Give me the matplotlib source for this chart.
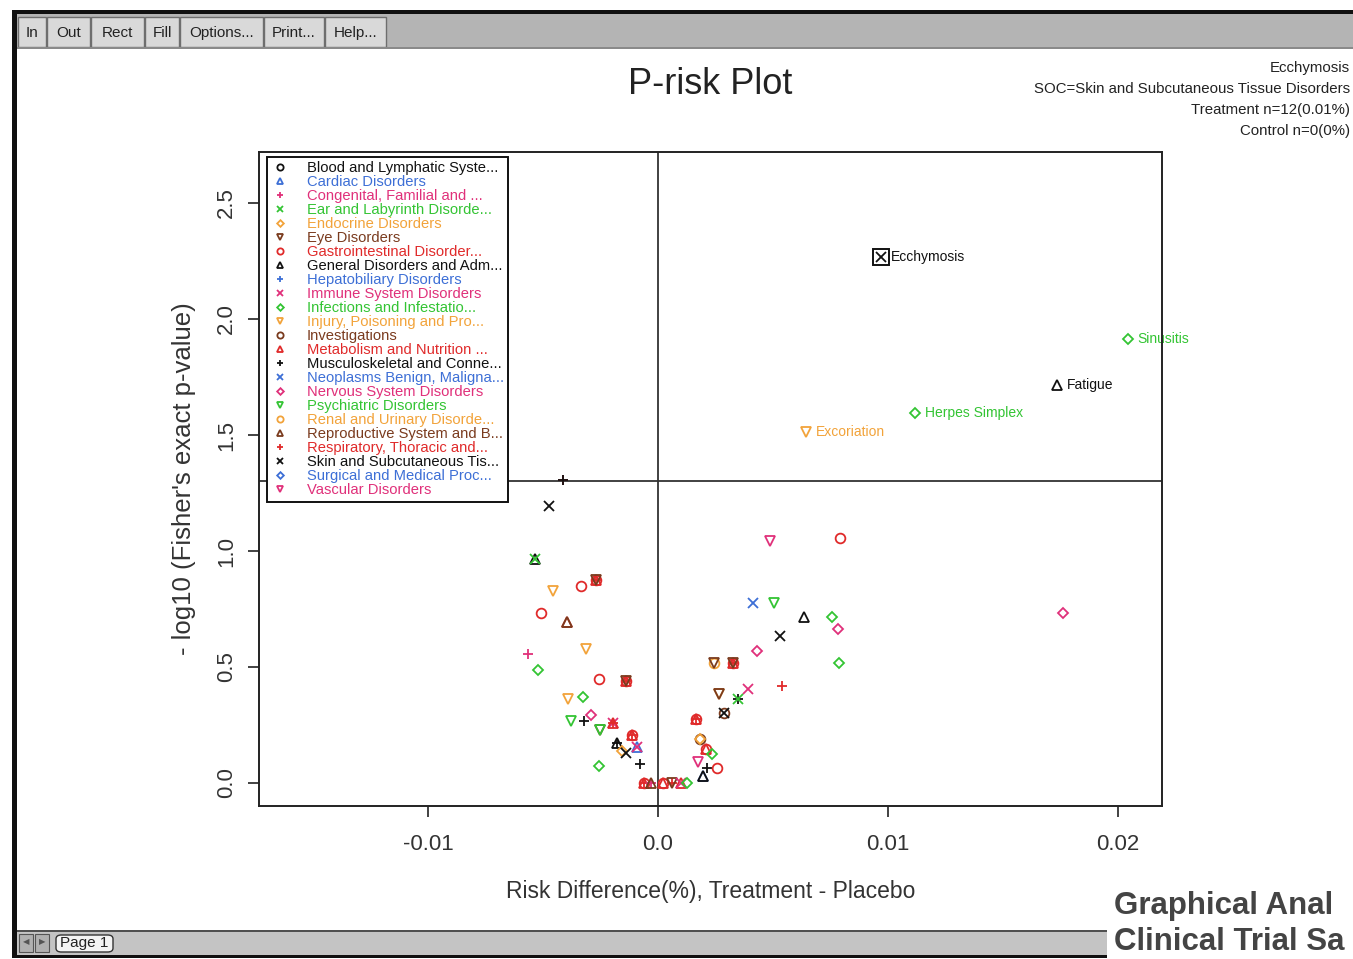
"""
P-risk plot (S-PLUS style window): risk difference vs -log10 Fisher p-value,
one marker style per system organ class. Writes out.png.
"""

import math

import matplotlib
matplotlib.use("Agg")
import matplotlib.pyplot as plt
from matplotlib.lines import Line2D
from matplotlib.patches import Rectangle, FancyBboxPatch

plt.rcParams["font.family"] = ["Liberation Sans", "DejaVu Sans"]

W, H = 1353, 959

# ---- data -------------------------------------------------------------------
SOC_LABELS = [
    "Blood and Lymphatic Syste...",
    "Cardiac Disorders",
    "Congenital, Familial and ...",
    "Ear and Labyrinth Disorde...",
    "Endocrine Disorders",
    "Eye Disorders",
    "Gastrointestinal Disorder...",
    "General Disorders and Adm...",
    "Hepatobiliary Disorders",
    "Immune System Disorders",
    "Infections and Infestatio...",
    "Injury, Poisoning and Pro...",
    "Investigations",
    "Metabolism and Nutrition ...",
    "Musculoskeletal and Conne...",
    "Neoplasms Benign, Maligna...",
    "Nervous System Disorders",
    "Psychiatric Disorders",
    "Renal and Urinary Disorde...",
    "Reproductive System and B...",
    "Respiratory, Thoracic and...",
    "Skin and Subcutaneous Tis...",
    "Surgical and Medical Proc...",
    "Vascular Disorders",
]

# unlabelled adverse events (several SOCs often sit on the same spot)
PT_DIFF = [
    -0.00413, -0.00413, -0.00474, -0.00535, -0.00535, -0.00335, -0.00270, -0.00270,
    -0.00270, -0.00270, -0.00457, -0.00509, -0.00396, -0.00396, -0.00313, -0.00565,
    -0.00522, -0.00256, -0.00139, -0.00139, -0.00139, -0.00139, -0.00391, -0.00326,
    -0.00378, -0.00322, -0.00291, -0.00196, -0.00196, -0.00196, -0.00252, -0.00252,
    -0.00113, -0.00113, -0.00113, -0.00178, -0.00178, -0.00091, -0.00091, -0.00155,
    -0.00139, -0.00078, -0.00256, -0.00060, -0.00060, -0.00060, -0.00030, -0.00030,
    0.00020, 0.00020, 0.00060, 0.00060, 0.00100, 0.00100, 0.00125, 0.00487,
    0.00791, 0.00413, 0.00504, 0.00635, 0.00757, 0.00783, 0.00530, 0.00430,
    0.00787, 0.00243, 0.00243, 0.00326, 0.00326, 0.00326, 0.00326, 0.00539,
    0.00391, 0.00265, 0.00265, 0.00348, 0.00348, 0.00287, 0.00287, 0.00165,
    0.00165, 0.00165, 0.00183, 0.00183, 0.00209, 0.00209, 0.00235, 0.00174,
    0.00213, 0.00257, 0.00196, 0.00196, 0.01761,
]
PT_LOGP = [
    1.306, 1.306, 1.194, 0.966, 0.966, 0.849, 0.875, 0.875,
    0.875, 0.875, 0.828, 0.733, 0.694, 0.694, 0.578, 0.556,
    0.487, 0.448, 0.440, 0.440, 0.440, 0.440, 0.362, 0.371,
    0.267, 0.267, 0.293, 0.259, 0.259, 0.259, 0.228, 0.228,
    0.207, 0.207, 0.207, 0.172, 0.172, 0.155, 0.155, 0.140,
    0.129, 0.082, 0.073, 0.0, 0.0, 0.0, 0.0, 0.0,
    0.0, 0.0, 0.0, 0.0, 0.0, 0.0, 0.0, 1.043,
    1.056, 0.776, 0.776, 0.716, 0.716, 0.664, 0.634, 0.569,
    0.517, 0.517, 0.517, 0.517, 0.517, 0.517, 0.517, 0.418,
    0.405, 0.384, 0.384, 0.362, 0.362, 0.302, 0.302, 0.276,
    0.276, 0.276, 0.190, 0.190, 0.147, 0.147, 0.125, 0.091,
    0.065, 0.065, 0.030, 0.030, 0.733,
]
PT_SOC = [
    20, 14, 21, 7, 3, 6, 6, 13,
    20, 5, 11, 6, 13, 19, 11, 2,
    10, 6, 6, 13, 20, 5, 11, 10,
    17, 14, 16, 9, 13, 20, 5, 17,
    6, 13, 20, 7, 14, 1, 9, 4,
    21, 14, 10, 6, 13, 20, 2, 19,
    6, 13, 20, 5, 13, 9, 10, 23,
    6, 15, 17, 7, 10, 16, 21, 16,
    10, 18, 5, 6, 13, 20, 5, 20,
    9, 11, 5, 14, 3, 12, 21, 6,
    13, 20, 12, 4, 6, 13, 10, 23,
    14, 6, 1, 7, 16,
]

# labelled (signal) adverse events
LAB_TERM = ["Ecchymosis", "Sinusitis", "Fatigue", "Herpes Simplex", "Excoriation"]
LAB_DIFF = [0.00970, 0.02043, 0.01735, 0.01117, 0.00643]
LAB_LOGP = [2.267, 1.914, 1.716, 1.595, 1.513]
LAB_SOC = [21, 10, 7, 10, 11]
SELECTED = "Ecchymosis"

INFO_LINES = [
    "Ecchymosis",
    "SOC=Skin and Subcutaneous Tissue Disorders",
    "Treatment n=12(0.01%)",
    "Control n=0(0%)",
]

P_CUTOFF = 0.05
X_TICKS = [-0.01, 0.0, 0.01, 0.02]
X_TICK_LABELS = ["-0.01", "0.0", "0.01", "0.02"]
Y_TICKS = [0.0, 0.5, 1.0, 1.5, 2.0, 2.5]
Y_TICK_LABELS = ["0.0", "0.5", "1.0", "1.5", "2.0", "2.5"]

TOOLBAR = ["In", "Out", "Rect", "Fill", "Options...", "Print...", "Help..."]

# ---- styles -----------------------------------------------------------------
PALETTE = ["#111111", "#3d6fd6", "#e0307a", "#33c433", "#f2a33a", "#7a3b1e", "#e02a2a"]
MARKERS = ["o", "^", "+", "x", "D", "v"]


def soc_style(i):
    return PALETTE[i % len(PALETTE)], MARKERS[i % len(MARKERS)]


def marker_kw(soc, ms=7.0):
    color, m = soc_style(soc)
    hollow = m in "o^Dv"
    return dict(linestyle="none", marker=m,
                markersize=ms * 0.75 if m == "D" else ms,
                markeredgewidth=1.3, markeredgecolor=color,
                markerfacecolor="none" if hollow else color)


fig = plt.figure(figsize=(W / 100, H / 100), dpi=100)
fig.patch.set_facecolor("white")


def px_box(x0, y0, x1, y1, **kw):
    fig.add_artist(Rectangle((x0 / W, 1 - y1 / H), (x1 - x0) / W, (y1 - y0) / H,
                             transform=fig.transFigure, **kw))


def px_text(x, y, s, **kw):
    fig.text(x / W, 1 - y / H, s, **kw)


# ---- window chrome ----------------------------------------------------------
px_box(17, 14, W, 48, facecolor="#b4b4b4", edgecolor="none")
btn_edges = [18, 47, 91, 145, 180, 264, 325, 387]
for i, name in enumerate(TOOLBAR):
    x0, x1 = btn_edges[i], btn_edges[i + 1] - 1
    px_box(x0, 17, x1, 47, facecolor="#d9d9d9", edgecolor="#6e6e6e", linewidth=1.0)
    px_text((x0 + x1) / 2, 33, name, ha="center", va="center", fontsize=11, color="#222")
px_box(17, 47, W, 49, facecolor="#8a8a8a", edgecolor="none")
px_box(12, 10, W, 14, facecolor="#101010", edgecolor="none")
px_box(12, 10, 17, 957, facecolor="#101010", edgecolor="none")

# status bar
px_box(17, 931, W, 955, facecolor="#c4c4c4", edgecolor="none")
px_box(17, 930, W, 932, facecolor="#505050", edgecolor="none")
px_box(12, 955, W, 958, facecolor="#101010", edgecolor="none")
for x0, glyph in [(19, "◀"), (35, "▶")]:
    px_box(x0, 934, x0 + 14, 952, facecolor="#b0b0b0", edgecolor="#555", linewidth=0.8)
    px_text(x0 + 7, 943, glyph, ha="center", va="center", fontsize=6, color="#555")
fig.add_artist(FancyBboxPatch((56 / W, 1 - 952 / H), 57 / W, 17 / H,
                              boxstyle="round,pad=0,rounding_size=0.004",
                              transform=fig.transFigure, facecolor="#f4f4f4",
                              edgecolor="#333", linewidth=1.0))
px_text(84, 943, "Page 1", ha="center", va="center", fontsize=11, color="#222")

# overlay caption in the corner
px_box(1107, 884, W, H, facecolor="white", edgecolor="none")
px_text(1114, 906, "Graphical Anal", ha="left", va="center", fontsize=22.5,
        fontweight="bold", color="#444444")
px_text(1114, 942, "Clinical Trial Sa", ha="left", va="center", fontsize=22.5,
        fontweight="bold", color="#444444")

# ---- plot -------------------------------------------------------------------
ax = fig.add_axes([259 / W, 1 - 806 / H, (1162 - 259) / W, (806 - 152) / H])
ax.set_xlim(-0.01735, 0.02191)
ax.set_ylim(-0.099, 2.72)

ax.axhline(-math.log10(P_CUTOFF), color="#333", linewidth=1.3, zorder=1)
ax.axvline(0.0, color="#333", linewidth=1.3, zorder=1)

for x, y, s in zip(PT_DIFF, PT_LOGP, PT_SOC):
    ax.plot([x], [y], zorder=3, **marker_kw(s))

for term, x, y, s in zip(LAB_TERM, LAB_DIFF, LAB_LOGP, LAB_SOC):
    color, _ = soc_style(s)
    ax.plot([x], [y], zorder=3, **marker_kw(s, ms=6.5))
    if term == SELECTED:
        ax.plot([x], [y], linestyle="none", marker="s", markersize=11,
                markerfacecolor="none", markeredgecolor="#111", markeredgewidth=1.4,
                zorder=4)
    ax.annotate(term, (x, y), xytext=(7, 0), textcoords="offset points",
                ha="left", va="center", fontsize=10, color=color,
                annotation_clip=False, clip_on=False, zorder=2)

ax.set_xticks(X_TICKS)
ax.set_xticklabels(X_TICK_LABELS)
ax.set_yticks(Y_TICKS)
ax.set_yticklabels(Y_TICK_LABELS, rotation=90, va="center")
ax.tick_params(axis="x", length=8, width=1.2, pad=12, labelsize=16,
               color="#222", labelcolor="#333")
ax.tick_params(axis="y", length=8, width=1.2, pad=8, labelsize=16,
               color="#222", labelcolor="#333")
for sp in ax.spines.values():
    sp.set_color("#222")
    sp.set_linewidth(1.4)

ax.set_xlabel("Risk Difference(%), Treatment - Placebo", fontsize=16.5,
              color="#333", labelpad=18)
ax.set_ylabel("- log10 (Fisher's exact p-value)", fontsize=18.5,
              color="#333", labelpad=14)

handles = [Line2D([0], [0], **marker_kw(i, ms=4.5)) for i in range(len(SOC_LABELS))]
leg = ax.legend(handles, SOC_LABELS, loc="upper left",
                bbox_to_anchor=(8 / 903, 1 - 5 / 654), borderaxespad=0,
                fontsize=10.6, labelspacing=0.0, handlelength=1.1,
                handletextpad=1.3, borderpad=0.3, fancybox=False,
                framealpha=1, edgecolor="#111")
leg.get_frame().set_linewidth(1.4)
for txt, i in zip(leg.get_texts(), range(len(SOC_LABELS))):
    txt.set_color(soc_style(i)[0])

fig.text(710 / W, 1 - 85 / H, "P-risk Plot", ha="center", va="center",
         fontsize=26, color="#222")
for k, line in enumerate(INFO_LINES):
    px_text(1350, 68 + 21 * k, line, ha="right", va="center", fontsize=10.8, color="#222")

fig.savefig("out.png", dpi=100)
